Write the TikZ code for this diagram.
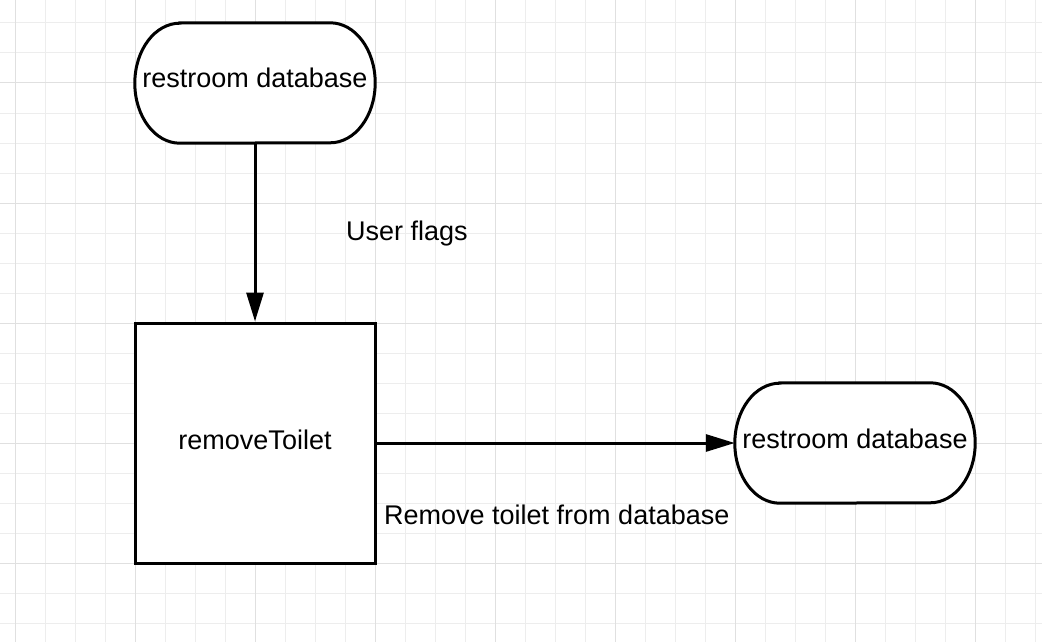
\documentclass[tikz,border=0pt]{standalone}
\usepackage{fontspec}
\setmainfont{Liberation Sans}
\usetikzlibrary{arrows.meta,calc}
\tikzset{
  lbl/.style={inner sep=0pt,font=\fontsize{27}{32}\selectfont},
  shapebox/.style={draw=none,minimum width=240pt,minimum height=120pt,inner sep=0pt},
  squarebox/.style={draw=black,line width=3pt,fill=white,minimum width=240pt,minimum height=240pt,inner sep=0pt},
  outline/.style={draw=black,line width=3pt,fill=white},
  flow/.style={draw=black,line width=3pt,-{Triangle[length=29pt,width=17pt]}},
  minorgrid/.style={draw=black!7,line width=1pt},
  majorgrid/.style={draw=black!12,line width=1pt}
}
\newcommand{\stadiumoutline}[1]{%
  \path[outline] ($(#1.north west)+(45pt,0)$) -- ($(#1.north east)+(-45pt,0)$)
    arc[start angle=90,end angle=-90,x radius=45pt,y radius=60pt]
    -- ($(#1.south west)+(45pt,0)$)
    arc[start angle=270,end angle=90,x radius=45pt,y radius=60pt] -- cycle;}
\begin{document}
\begin{tikzpicture}[x=1pt,y=1pt]
\useasboundingbox (0,0) rectangle (1042,-642);
\fill[white] (0,0) rectangle (1042,-642);
% grid
\foreach \i in {0,...,34} {
  \pgfmathtruncatemacro{\gx}{15+30*\i}
  \ifnum\gx<1042 \draw[minorgrid] (\gx,0) -- (\gx,-642); \fi
}
\foreach \i in {0,...,21} {
  \pgfmathtruncatemacro{\gy}{23+30*\i}
  \ifnum\gy<642 \draw[minorgrid] (0,-\gy) -- (1042,-\gy); \fi
}
\foreach \gx in {15,135,255,375,495,615,735,855,975} {
  \draw[majorgrid] (\gx,0) -- (\gx,-642);
}
\foreach \gy in {83,203,323,443,563} {
  \draw[majorgrid] (0,-\gy) -- (1042,-\gy);
}
% nodes
\node[shapebox] (db1) at (255,-83) {};
\stadiumoutline{db1}
\node[lbl,anchor=base] (db1t) at (255,-88) {restroom database};
\node[shapebox] (db2) at (855,-443) {};
\stadiumoutline{db2}
\node[lbl,anchor=base] (db2t) at (855,-448) {restroom database};
\node[squarebox] (rm) at (255,-443) {};
\node[lbl,anchor=base] (rmt) at (255,-449) {removeToilet};
% connectors
\draw[flow] (db1.south) -- (rm.north);
\draw[flow] (rm.east) -- (db2.west);
% labels
\node[lbl,anchor=base west] (l1) at (346,-240) {User flags};
\node[lbl,anchor=base west] (l2) at (384,-524) {Remove toilet from database};
\end{tikzpicture}
\end{document}
